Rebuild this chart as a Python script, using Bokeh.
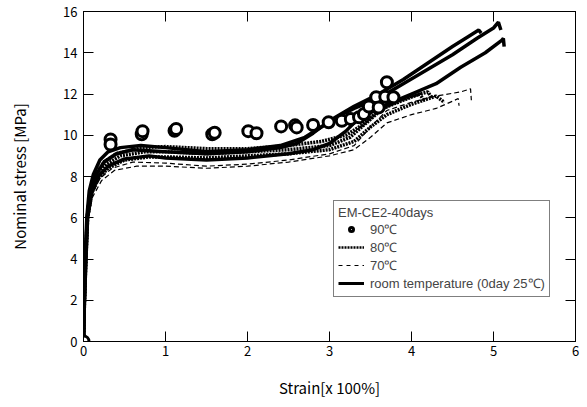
from bokeh.plotting import figure
from bokeh.models import LinearAxis, Legend, LegendItem, FixedTicker, Range1d
from bokeh.embed import file_html
from bokeh.resources import INLINE

FONT = "Noto Sans CJK JP"
LFONT = "Liberation Sans"
NAN = float("nan")

# ---- data ----
x_ticks = [0, 1, 2, 3, 4, 5, 6]
y_ticks = [0, 2, 4, 6, 8, 10, 12, 14, 16]

# 90 C : open circles
x90 = [0, 0.33, 0.33, 0.71, 0.72, 1.11, 1.13, 1.57, 1.6, 2.01, 2.11, 2.41, 2.58, 2.6,
       2.8, 2.99, 3.15, 3.26, 3.36, 3.42, 3.48, 3.57, 3.6, 3.68, 3.7, 3.78]
y90 = [0, 9.8, 9.55, 10.05, 10.2, 10.22, 10.3, 10.05, 10.12, 10.2, 10.1, 10.43, 10.48, 10.38,
       10.5, 10.63, 10.7, 10.79, 10.87, 11.03, 11.39, 11.84, 11.35, 11.87, 12.57, 11.84]

# 80 C : dotted curves
x80a = [0, 0.01, 0.025, 0.045, 0.08, 0.15, 0.25, 0.4, 0.7, 1.0, 1.5, 2.0, 2.5, 2.9, 3.2, 3.4, 3.6, 3.8, 4.0, 4.2, 4.25]
y80a = [0, 2, 4, 6, 7.3, 8.1, 8.7, 9.1, 9.4, 9.45, 9.35, 9.35, 9.5, 9.7, 10.0, 10.5, 11.2, 11.6, 11.9, 12.1, 11.8]
x80b = [0, 0.012, 0.03, 0.05, 0.1, 0.18, 0.3, 0.5, 0.8, 1.0, 1.5, 2.0, 2.5, 3.0, 3.3, 3.5, 3.7, 4.0, 4.3, 4.4]
y80b = [0, 2, 4, 6, 7.2, 7.9, 8.4, 8.8, 8.95, 8.95, 8.9, 9.0, 9.1, 9.3, 9.7, 10.4, 11.0, 11.5, 11.9, 11.6]
x80c = [0, 0.011, 0.028, 0.048, 0.09, 0.16, 0.28, 0.45, 0.75, 1.0, 1.5, 2.0, 2.5, 3.0, 3.25, 3.45, 3.65, 3.9, 4.1, 4.15]
y80c = [0, 2, 4, 6, 7.3, 8.0, 8.6, 9.0, 9.2, 9.2, 9.1, 9.2, 9.3, 9.5, 9.9, 10.6, 11.3, 11.7, 12.0, 11.7]

# 70 C : dashed curves
x70a = [0, 0.013, 0.03, 0.055, 0.1, 0.2, 0.35, 0.6, 1.0, 1.5, 2.0, 2.5, 3.0, 3.3, 3.5, 3.7, 4.0, 4.3, 4.6, 4.72, 4.73]
y70a = [0, 2, 4, 6, 7.1, 7.9, 8.4, 8.7, 8.65, 8.5, 8.6, 8.8, 9.1, 9.5, 10.4, 11.2, 11.6, 11.9, 12.1, 12.25, 11.7]
x70b = [0, 0.014, 0.032, 0.06, 0.11, 0.22, 0.38, 0.65, 1.0, 1.5, 2.0, 2.5, 3.0, 3.3, 3.5, 3.7, 4.0, 4.3, 4.5, 4.57, 4.58]
y70b = [0, 2, 4, 6, 7.0, 7.8, 8.3, 8.5, 8.5, 8.4, 8.5, 8.7, 9.0, 9.3, 9.9, 10.6, 11.0, 11.3, 11.65, 11.78, 11.43]

# room temperature (0day 25 C) : solid curves
xrt1 = [0, 0.01, 0.02, 0.04, 0.07, 0.12, 0.2, 0.3, 0.45, 0.7, 1.0, 1.5, 2.0, 2.4, 2.7, 2.9, 3.1, 3.3, 3.6, 3.9, 4.2, 4.5, 4.8, 5.0, 5.06, 5.09]
yrt1 = [0, 2, 4, 6, 7.3, 8.1, 8.8, 9.2, 9.4, 9.5, 9.4, 9.2, 9.3, 9.5, 9.9, 10.4, 10.9, 11.3, 11.8, 12.5, 13.2, 13.9, 14.7, 15.2, 15.48, 15.1]
xrt2 = [0, 0.01, 0.025, 0.045, 0.08, 0.14, 0.25, 0.4, 0.6, 1.0, 1.5, 2.0, 2.4, 2.6, 2.8, 3.0, 3.3, 3.6, 3.9, 4.2, 4.5, 4.7, 4.82, 4.85]
yrt2 = [0, 2, 4, 6, 7.2, 8.0, 8.7, 9.1, 9.3, 9.2, 9.1, 9.2, 9.4, 9.6, 10.1, 10.7, 11.4, 12.0, 12.7, 13.5, 14.3, 14.8, 15.1, 14.95]
xrt3 = [0, 0.012, 0.03, 0.05, 0.1, 0.18, 0.3, 0.5, 0.8, 1.0, 1.5, 2.0, 2.5, 2.8, 3.0, 3.2, 3.35, 3.5, 3.7, 4.0, 4.3, 4.6, 4.9, 5.1, 5.12, 5.13]
yrt3 = [0, 2, 4, 6, 7.2, 8.0, 8.5, 8.85, 9.0, 8.9, 8.8, 8.9, 9.1, 9.3, 9.6, 10.2, 10.8, 11.1, 11.5, 12.0, 12.5, 13.3, 14.0, 14.6, 14.69, 14.3]

legend_title = "EM-CE2-40days"
labels = ["90℃", "80℃", "70℃", "room temperature (0day 25℃)"]

# ---- figure ----
p = figure(width=587, height=407, output_backend="svg", toolbar_location=None,
           x_range=Range1d(0, 6), y_range=Range1d(0, 16),
           min_border_left=83, min_border_right=12, min_border_top=11, min_border_bottom=66)
p.grid.visible = False
p.outline_line_color = "black"
p.background_fill_color = "white"
p.border_fill_color = "white"

for ax in (p.xaxis[0], p.yaxis[0]):
    ax.major_tick_in = 10
    ax.major_tick_out = 0
    ax.minor_tick_line_color = None
    ax.axis_line_color = "black"
    ax.major_tick_line_color = "black"
    ax.major_label_text_font = FONT
    ax.major_label_text_font_size = "13px"
    ax.major_label_text_color = "black"
    ax.axis_label_text_font = FONT
    ax.axis_label_text_font_size = "15px"
    ax.axis_label_text_font_style = "normal"
    ax.axis_label_text_color = "black"

p.xaxis[0].ticker = FixedTicker(ticks=x_ticks)
p.yaxis[0].ticker = FixedTicker(ticks=y_ticks)
p.xaxis[0].axis_label = "Strain[x 100%]"
p.yaxis[0].axis_label = "Nominal stress [MPa]"
p.xaxis[0].major_label_standoff = 4
p.yaxis[0].major_label_standoff = 6
p.xaxis[0].axis_label_standoff = 18
p.yaxis[0].axis_label_standoff = 30

top = LinearAxis(ticker=FixedTicker(ticks=x_ticks), major_tick_in=10, major_tick_out=0,
                 minor_tick_line_color=None, major_label_text_font_size="0px",
                 major_label_text_color=None)
right = LinearAxis(ticker=FixedTicker(ticks=y_ticks), major_tick_in=10, major_tick_out=0,
                   minor_tick_line_color=None, major_label_text_font_size="0px",
                   major_label_text_color=None)
p.add_layout(top, "above")
p.add_layout(right, "right")

# curves
r70 = []
for xs, ys in [(x70a, y70a), (x70b, y70b)]:
    r70.append(p.line(xs, ys, line_color="black", line_width=1.2, line_dash="5 3"))
r80 = []
for xs, ys in [(x80a, y80a), (x80b, y80b), (x80c, y80c)]:
    r80.append(p.line(xs, ys, line_color="black", line_width=3.5, line_dash="2 1"))
rrt = []
for xs, ys in [(xrt1, yrt1), (xrt2, yrt2), (xrt3, yrt3)]:
    rrt.append(p.line(xs, ys, line_color="black", line_width=3.5))
r90 = p.scatter(x90, y90, marker="circle", size=11, line_color="black", line_width=3,
                fill_color="white")

# legend-only glyph styles (a single NaN point: nothing is drawn in the plot)
k90 = p.scatter([NAN], [NAN], marker="circle", size=9, line_color="black", line_width=3, fill_color="white")
k80 = p.line([NAN], [NAN], line_color="black", line_width=2.5, line_dash="2 1")
k70 = p.line([NAN], [NAN], line_color="black", line_width=1, line_dash="4 4")
krt = p.line([NAN], [NAN], line_color="black", line_width=3)

legend = Legend(items=[
    LegendItem(label=labels[0], renderers=[k90]),
    LegendItem(label=labels[1], renderers=[k80]),
    LegendItem(label=labels[2], renderers=[k70]),
    LegendItem(label=labels[3], renderers=[krt]),
], location=(250, 44))
legend.title = legend_title
legend.title_text_font = LFONT
legend.title_text_font_size = "13px"
legend.title_text_font_style = "normal"
legend.title_standoff = 0
legend.label_text_font = LFONT
legend.label_text_font_size = "13px"
legend.label_height = 10
legend.glyph_height = 10
legend.glyph_width = 26
legend.label_standoff = 6
legend.spacing = 0
legend.padding = 4
legend.margin = 0
legend.border_line_color = "black"
legend.border_line_width = 1
legend.background_fill_alpha = 1
p.add_layout(legend, "center")

open("out.html", "w").write(file_html(p, INLINE))
